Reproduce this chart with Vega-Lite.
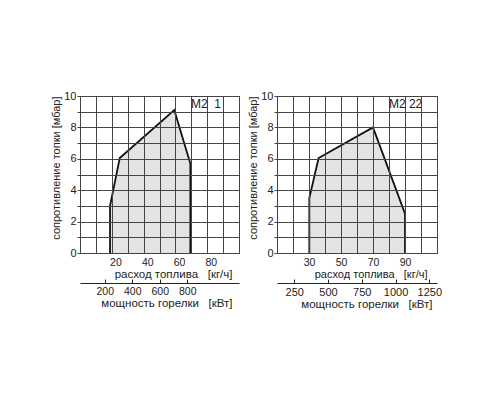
{
  "$schema": "https://vega.github.io/schema/vega-lite/v6.json",
  "padding": {"left": 50, "top": 89, "right": 5, "bottom": 5},
  "background": "white",
  "spacing": 7,
  "config": {
    "view": {"stroke": "#111", "strokeWidth": 1},
    "font": "Liberation Sans",
    "axis": {"labelColor": "#222", "titleColor": "#222", "titleFontWeight": "normal", "labelFont": "Liberation Sans", "titleFont": "Liberation Sans", "labelOverlap": false},
    "axisY": {"labelFont": "Liberation Sans Narrow, Liberation Sans", "titleFont": "Liberation Sans Narrow, Liberation Sans"}
  },
  "hconcat": [
    {
      "width": 159,
      "height": 157,
      "resolve": {"scale": {"x": "independent"}},
      "layer": [
        {
          "data": {"name": "m21"},
          "mark": {"type": "area", "fill": "#e3e3e5"},
          "encoding": {
            "x": {"field": "flow", "type": "quantitative", "scale": {"domain": [-2.3, 97.7], "nice": false, "zero": false},
              "axis": {"orient": "bottom", "values": [-2.3, 7.7, 17.7, 27.7, 37.7, 47.7, 57.7, 67.7, 77.7, 87.7, 97.7], "grid": true, "gridColor": "#444", "gridWidth": 1, "labels": false, "ticks": false, "domain": false, "title": null, "zindex": 1}},
            "y": {"field": "p", "type": "quantitative", "stack": null, "scale": {"domain": [0, 10], "nice": false},
              "axis": {"values": [0, 1, 2, 3, 4, 5, 6, 7, 8, 9, 10], "grid": true, "gridColor": "#444", "gridWidth": 1, "zindex": 1, "domain": false, "ticks": true, "tickSize": 3, "tickColor": "#444", "labelPadding": 1, "labelFontSize": 11, "labelOverlap": false, "labelExpr": "datum.value % 2 == 0 ? datum.label : ''", "title": "сопротивление топки [мбар]", "titleFontSize": 11, "titleAnchor": "end", "titlePadding": 2}}
          }
        },
        {
          "data": {"name": "m21"},
          "mark": {"type": "line", "color": "#111", "strokeWidth": 1.8, "strokeJoin": "miter"},
          "encoding": {
            "x": {"field": "flow", "type": "quantitative", "scale": {"domain": [-2.3, 97.7], "nice": false, "zero": false}, "axis": null},
            "y": {"field": "p", "type": "quantitative",
              "axis": {"values": [0, 1, 2, 3, 4, 5, 6, 7, 8, 9, 10], "grid": true, "gridColor": "#444", "gridWidth": 1, "zindex": 1, "domain": false, "ticks": true, "tickSize": 3, "tickColor": "#444", "labelPadding": 1, "labelFontSize": 11, "labelOverlap": false, "labelExpr": "datum.value % 2 == 0 ? datum.label : ''", "title": "сопротивление топки [мбар]", "titleFontSize": 11, "titleAnchor": "end", "titlePadding": 2}},
            "order": {"field": "i", "type": "quantitative"}
          }
        },
        {
          "data": {"values": [{"flow": 20}, {"flow": 40}, {"flow": 60}, {"flow": 80}]},
          "mark": {"type": "point", "opacity": 0},
          "encoding": {
            "x": {"field": "flow", "type": "quantitative", "scale": {"domain": [-2.3, 97.7], "nice": false, "zero": false},
              "axis": {"orient": "bottom", "values": [20, 40, 60, 80], "grid": false, "ticks": false, "tickSize": 0, "domain": false, "labelPadding": 4, "labelFontSize": 10.5, "title": "расход топлива\u00a0\u00a0\u00a0[кг/ч]", "titleFontSize": 11.5, "titlePadding": 1, "titleX": 152, "titleAlign": "right"}}
          }
        },
        {
          "data": {"values": [{"kw": 200}, {"kw": 400}, {"kw": 600}, {"kw": 800}]},
          "mark": {"type": "point", "opacity": 0},
          "encoding": {
            "x": {"field": "kw", "type": "quantitative", "scale": {"domain": [20, 1176], "nice": false, "zero": false},
              "axis": {"orient": "bottom", "offset": 30, "values": [200, 400, 600, 800], "grid": false, "domain": true, "domainColor": "#222", "ticks": true, "tickSize": -4, "tickColor": "#222", "labelPadding": 7, "labelFontSize": 10.5, "title": "мощность горелки\u00a0\u00a0\u00a0[кВт]", "titleFontSize": 11.5, "titlePadding": 1, "titleX": 152, "titleAlign": "right"}}
          }
        },
        {
          "data": {"values": [{"name": "M2\u00a0\u00a01"}]},
          "mark": {"type": "text", "align": "right", "baseline": "middle", "fontSize": 12, "color": "#222"},
          "encoding": {
            "x": {"datum": 86.4, "type": "quantitative", "scale": {"domain": [-2.3, 97.7], "nice": false, "zero": false}, "axis": null},
            "y": {"datum": 9.5, "type": "quantitative",
              "axis": {"values": [0, 1, 2, 3, 4, 5, 6, 7, 8, 9, 10], "grid": true, "gridColor": "#444", "gridWidth": 1, "zindex": 1, "domain": false, "ticks": true, "tickSize": 3, "tickColor": "#444", "labelPadding": 1, "labelFontSize": 11, "labelOverlap": false, "labelExpr": "datum.value % 2 == 0 ? datum.label : ''", "title": "сопротивление топки [мбар]", "titleFontSize": 11, "titleAnchor": "end", "titlePadding": 2}},
            "text": {"field": "name"}
          }
        }
      ]
    },
    {
      "width": 160,
      "height": 157,
      "resolve": {"scale": {"x": "independent"}},
      "layer": [
        {
          "data": {"name": "m222"},
          "mark": {"type": "area", "fill": "#e3e3e5"},
          "encoding": {
            "x": {"field": "flow", "type": "quantitative", "scale": {"domain": [10, 110], "nice": false, "zero": false},
              "axis": {"orient": "bottom", "values": [10, 20, 30, 40, 50, 60, 70, 80, 90, 100, 110], "grid": true, "gridColor": "#444", "gridWidth": 1, "labels": false, "ticks": false, "domain": false, "title": null, "zindex": 1}},
            "y": {"field": "p", "type": "quantitative", "stack": null, "scale": {"domain": [0, 10], "nice": false},
              "axis": {"values": [0, 1, 2, 3, 4, 5, 6, 7, 8, 9, 10], "grid": true, "gridColor": "#444", "gridWidth": 1, "zindex": 1, "domain": false, "ticks": true, "tickSize": 3, "tickColor": "#444", "labelPadding": 1, "labelFontSize": 11, "labelOverlap": false, "labelExpr": "datum.value % 2 == 0 ? datum.label : ''", "title": "сопротивление топки [мбар]", "titleFontSize": 11, "titleAnchor": "end", "titlePadding": 2}}
          }
        },
        {
          "data": {"name": "m222"},
          "mark": {"type": "line", "color": "#111", "strokeWidth": 1.8, "strokeJoin": "miter"},
          "encoding": {
            "x": {"field": "flow", "type": "quantitative", "scale": {"domain": [10, 110], "nice": false, "zero": false}, "axis": null},
            "y": {"field": "p", "type": "quantitative",
              "axis": {"values": [0, 1, 2, 3, 4, 5, 6, 7, 8, 9, 10], "grid": true, "gridColor": "#444", "gridWidth": 1, "zindex": 1, "domain": false, "ticks": true, "tickSize": 3, "tickColor": "#444", "labelPadding": 1, "labelFontSize": 11, "labelOverlap": false, "labelExpr": "datum.value % 2 == 0 ? datum.label : ''", "title": "сопротивление топки [мбар]", "titleFontSize": 11, "titleAnchor": "end", "titlePadding": 2}},
            "order": {"field": "i", "type": "quantitative"}
          }
        },
        {
          "data": {"values": [{"flow": 30}, {"flow": 50}, {"flow": 70}, {"flow": 90}]},
          "mark": {"type": "point", "opacity": 0},
          "encoding": {
            "x": {"field": "flow", "type": "quantitative", "scale": {"domain": [10, 110], "nice": false, "zero": false},
              "axis": {"orient": "bottom", "values": [30, 50, 70, 90], "grid": false, "ticks": false, "tickSize": 0, "domain": false, "labelPadding": 4, "labelFontSize": 10.5, "title": "расход топлива\u00a0\u00a0\u00a0[кг/ч]", "titleFontSize": 11, "titlePadding": 1, "titleX": 150, "titleAlign": "right"}}
          }
        },
        {
          "data": {"values": [{"kw": 250}, {"kw": 500}, {"kw": 750}, {"kw": 1000}, {"kw": 1250}]},
          "mark": {"type": "point", "opacity": 0},
          "encoding": {
            "x": {"field": "kw", "type": "quantitative", "scale": {"domain": [122, 1307], "nice": false, "zero": false},
              "axis": {"orient": "bottom", "offset": 30, "values": [250, 500, 750, 1000, 1250], "format": "d", "grid": false, "domain": true, "domainColor": "#222", "ticks": true, "tickSize": -4, "tickColor": "#222", "labelPadding": 7, "labelFontSize": 11, "title": "мощность горелки\u00a0\u00a0\u00a0[кВт]", "titleFontSize": 11.5, "titlePadding": 1, "titleX": 155, "titleAlign": "right"}}
          }
        },
        {
          "data": {"values": [{"name": "M2\u00a022"}]},
          "mark": {"type": "text", "align": "right", "baseline": "middle", "fontSize": 12, "color": "#222"},
          "encoding": {
            "x": {"datum": 100.8, "type": "quantitative", "scale": {"domain": [10, 110], "nice": false, "zero": false}, "axis": null},
            "y": {"datum": 9.5, "type": "quantitative",
              "axis": {"values": [0, 1, 2, 3, 4, 5, 6, 7, 8, 9, 10], "grid": true, "gridColor": "#444", "gridWidth": 1, "zindex": 1, "domain": false, "ticks": true, "tickSize": 3, "tickColor": "#444", "labelPadding": 1, "labelFontSize": 11, "labelOverlap": false, "labelExpr": "datum.value % 2 == 0 ? datum.label : ''", "title": "сопротивление топки [мбар]", "titleFontSize": 11, "titleAnchor": "end", "titlePadding": 2}},
            "text": {"field": "name"}
          }
        }
      ]
    }
  ],
  "datasets": {
    "m21": [
      {"i": 1, "flow": 16.6, "p": 0},
      {"i": 2, "flow": 16.6, "p": 3.0},
      {"i": 3, "flow": 22.7, "p": 6.05},
      {"i": 4, "flow": 57.0, "p": 9.1},
      {"i": 5, "flow": 67.1, "p": 5.7},
      {"i": 6, "flow": 67.1, "p": 0}
    ],
    "m222": [
      {"i": 1, "flow": 30.2, "p": 0},
      {"i": 2, "flow": 30.2, "p": 3.5},
      {"i": 3, "flow": 36.0, "p": 6.05},
      {"i": 4, "flow": 70.0, "p": 8.0},
      {"i": 5, "flow": 90.0, "p": 2.5},
      {"i": 6, "flow": 90.0, "p": 0}
    ]
  }
}
